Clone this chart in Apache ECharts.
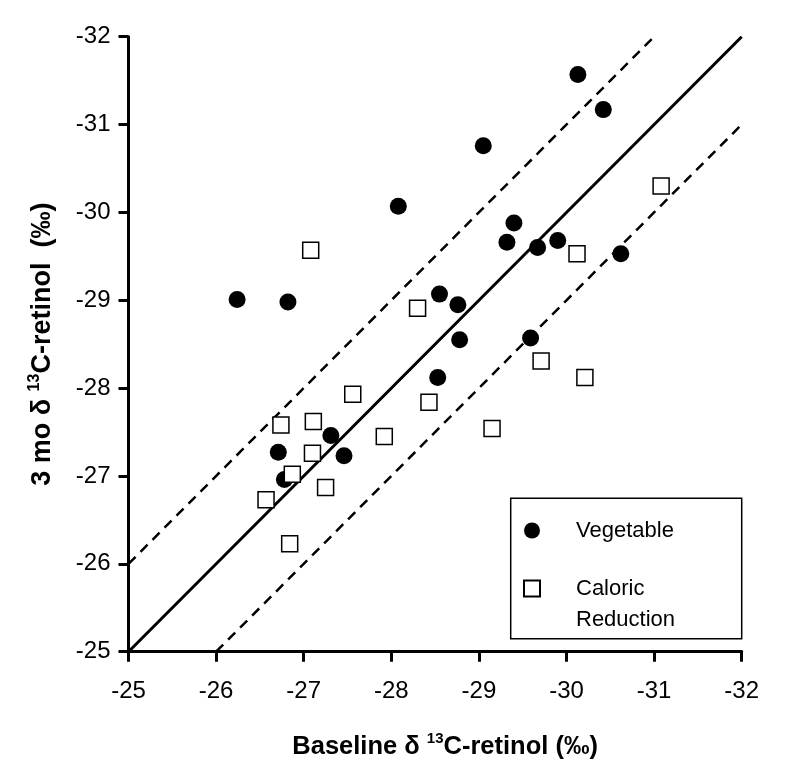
<!DOCTYPE html>
<html>
<head>
<meta charset="utf-8">
<script src="https://cdn.jsdelivr.net/npm/echarts@6/dist/echarts.min.js"></script>
<style>html,body{margin:0;padding:0;background:#fff}#c{width:800px;height:779px}</style>
</head>
<body>
<div id="c"></div>
<script>
// Data (x = baseline, y = 3 mo), per mille
var vegetable = [
  [-28.08, -30.07], [-26.24, -29.01], [-26.82, -28.98], [-28.55, -29.07],
  [-30.13, -31.57], [-30.42, -31.17], [-29.05, -30.76], [-29.40, -29.88],
  [-29.32, -29.66], [-29.67, -29.60], [-29.90, -29.68], [-30.62, -29.53],
  [-28.76, -28.95], [-28.78, -28.55], [-29.59, -28.57], [-28.53, -28.12],
  [-27.31, -27.46], [-26.71, -27.27], [-27.46, -27.23], [-26.78, -26.96]
];
var caloricReduction = [
  [-27.08, -29.57], [-28.30, -28.91], [-30.12, -29.53], [-31.08, -30.30],
  [-29.71, -28.31], [-30.21, -28.12], [-28.43, -27.84], [-29.15, -27.54],
  [-27.56, -27.93], [-26.74, -27.58], [-27.11, -27.62], [-27.10, -27.26],
  [-27.92, -27.45], [-26.87, -27.02], [-27.25, -26.87], [-26.57, -26.73],
  [-26.84, -26.23]
];
// Reference lines (end points)
var identityLine = [[-25, -25], [-32, -32]];
var upperLine = [[-25, -26], [-31, -32]];
var lowerLine = [[-26, -25], [-32, -31]];
var axisMin = -32, axisMax = -25;

var FONT = 'Liberation Sans, Arial, Helvetica, sans-serif';
var chart = echarts.init(document.getElementById('c'), null, {renderer: 'canvas'});

var axisCommon = {
  type: 'value', min: axisMin, max: axisMax, interval: 1, inverse: true,
  axisLine: {show: true, onZero: false, lineStyle: {color: '#000', width: 3}},
  axisTick: {show: true, inside: false, length: 10, lineStyle: {color: '#000', width: 3}},
  splitLine: {show: false},
  nameLocation: 'middle'
};

var option = {
  backgroundColor: '#fff',
  animation: false,
  grid: {left: 128.5, right: 58.3, top: 36.7, bottom: 127.3, containLabel: false},
  xAxis: Object.assign({}, axisCommon, {
    axisLabel: {color: '#000', fontSize: 24, fontFamily: FONT, margin: 28},
    name: '{b|Baseline δ }{s|13}{b|C-retinol (‰)}',
    nameGap: 80,
    nameTextStyle: {
      padding: [0, 0, 0, 20],
      rich: {
        b: {fontSize: 25.5, fontWeight: 'bold', fontFamily: FONT, color: '#000', lineHeight: 30},
        s: {fontSize: 15, fontWeight: 'bold', fontFamily: FONT, color: '#000', verticalAlign: 'top', lineHeight: 16}
      }
    }
  }),
  yAxis: Object.assign({}, axisCommon, {
    axisLabel: {color: '#000', fontSize: 24, fontFamily: FONT, margin: 18},
    name: '{b|3 mo δ }{s|13}{b|C-retinol  (‰)}',
    nameGap: 70,
    nameRotate: 90,
    nameTextStyle: {
      rich: {
        b: {fontSize: 27, fontWeight: 'bold', fontFamily: FONT, color: '#000', lineHeight: 32},
        s: {fontSize: 16, fontWeight: 'bold', fontFamily: FONT, color: '#000', verticalAlign: 'top', lineHeight: 17}
      }
    }
  }),
  legend: {
    orient: 'vertical', left: 523, top: 515, padding: 0, itemGap: -4,
    itemWidth: 16, itemHeight: 16,
    textStyle: {fontSize: 22, fontFamily: FONT, color: '#000', lineHeight: 31, padding: [0, 0, 0, 31]},
    data: [
      {name: 'Vegetable', icon: 'circle'},
      {name: 'Caloric Reduction', icon: 'rect'}
    ],
    formatter: function (n) { return n === 'Caloric Reduction' ? ' \nCaloric\nReduction' : n; },
    selectedMode: false
  },
  graphic: [{
    type: 'rect', silent: true, z: 100,
    shape: {x: 510.7, y: 498.3, width: 231, height: 140.4},
    style: {fill: 'none', stroke: '#000', lineWidth: 1.5}
  }],
  series: [
    {type: 'line', data: identityLine, symbol: 'none', silent: true,
     lineStyle: {color: '#000', width: 3}, z: 1},
    {type: 'line', data: upperLine, symbol: 'none', silent: true,
     lineStyle: {color: '#000', width: 2.5, type: [10, 7]}, z: 1},
    {type: 'line', data: lowerLine, symbol: 'none', silent: true,
     lineStyle: {color: '#000', width: 2.5, type: [10, 7]}, z: 1},
    {name: 'Vegetable', type: 'scatter', data: vegetable, symbol: 'circle', symbolSize: 17,
     itemStyle: {color: '#000', opacity: 1}, z: 3},
    {name: 'Caloric Reduction', type: 'scatter', data: caloricReduction, symbol: 'rect', symbolSize: 16,
     itemStyle: {color: '#fff', borderColor: '#000', borderWidth: 1.5, opacity: 1}, z: 4}
  ]
};
chart.setOption(option);
</script>
</body>
</html>
